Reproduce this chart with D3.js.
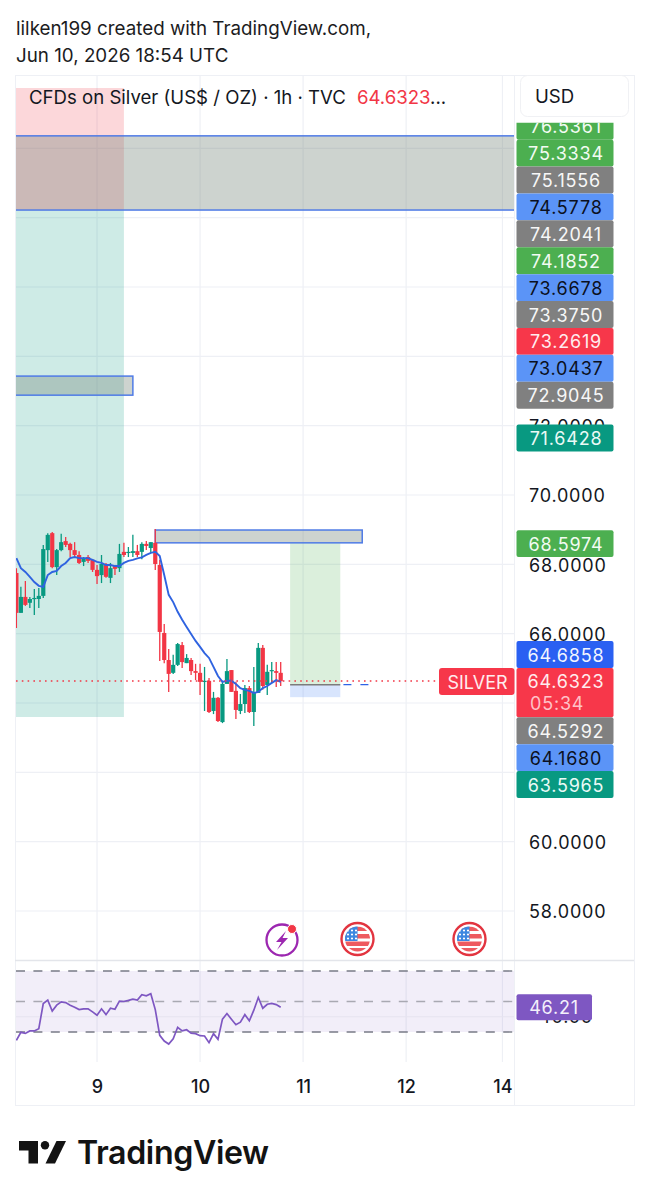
<!DOCTYPE html>
<html><head><meta charset="utf-8">
<script src="https://cdn.jsdelivr.net/npm/d3@7/dist/d3.min.js"></script>
<style>html,body{margin:0;padding:0;background:#fff}svg{display:block}text{font-family:Inter,"Noto Sans",sans-serif}</style>
</head><body><svg id="c" width="650" height="1200"></svg>
<script>
const opens=[67.75,66.60,67.06,66.89,67.00,67.00,67.09,68.41,68.90,67.92,68.41,68.67,68.59,68.41,68.27,68.07,68.21,68.13,67.84,67.69,68.01,67.61,67.95,67.89,68.36,68.33,68.33,68.38,68.36,68.59,68.47,68.62,67.98,66.02,65.24,64.87,65.10,65.67,65.15,65.24,64.92,64.87,64.61,64.64,63.77,64.15,63.45,64.55,64.95,64.35,63.77,63.97,64.43,63.74,64.29,65.59,64.52,64.92,64.92,64.87];
const highs=[67.89,67.35,67.52,67.06,67.29,67.32,68.56,68.90,68.93,68.44,68.88,68.79,68.62,68.64,68.38,68.21,68.27,68.15,67.98,68.27,68.04,68.04,67.98,68.59,68.62,68.50,68.85,68.56,68.64,68.67,68.64,69.02,68.13,66.28,65.56,65.39,65.73,65.76,65.41,65.30,65.13,65.13,65.04,64.72,64.32,64.17,64.64,65.27,64.95,64.61,64.26,64.52,64.49,65.04,65.73,65.67,65.10,65.18,65.18,65.18];
const lows=[66.16,66.60,66.80,66.74,66.54,66.74,67.03,68.07,67.89,67.69,68.38,68.50,68.21,68.21,68.01,67.95,68.04,67.78,67.43,67.46,67.61,67.46,67.69,67.78,68.21,68.21,68.21,68.21,68.15,68.41,68.33,67.84,65.21,65.15,64.32,64.84,65.07,65.01,65.15,64.81,64.66,64.23,63.77,63.71,63.68,63.45,63.42,64.55,64.32,63.54,63.68,63.71,63.71,63.34,64.29,64.38,64.23,64.58,64.46,64.49];
const closes=[66.60,67.06,66.83,67.00,67.03,67.09,68.44,68.85,67.92,68.41,68.64,68.56,68.41,68.27,68.04,68.18,68.10,67.84,67.66,68.01,67.64,67.89,67.87,68.30,68.27,68.36,68.38,68.27,68.59,68.53,68.64,68.01,66.05,65.24,64.84,65.10,65.70,65.18,65.30,64.92,64.87,64.61,64.64,63.74,64.15,63.48,64.55,64.92,64.32,63.80,63.97,64.43,63.74,64.29,65.59,64.49,64.90,64.95,64.87,64.63];
const ema=[68.18,67.89,67.78,67.64,67.49,67.38,67.35,67.69,67.78,67.81,67.95,68.04,68.18,68.21,68.18,68.18,68.18,68.13,68.07,68.04,67.98,67.98,67.95,67.95,68.04,68.10,68.13,68.17,68.20,68.27,68.33,68.36,68.24,67.69,67.12,66.91,66.63,66.40,66.19,65.99,65.79,65.62,65.44,65.30,65.04,64.78,64.61,64.64,64.64,64.55,64.43,64.38,64.35,64.29,64.32,64.43,64.49,64.58,64.66,64.61];
const rsi=[24.5,29.8,29.1,30.7,30.7,32.2,48.7,50.9,43.8,47.6,49.8,49.3,47.6,46.3,44.7,45.2,45.2,43.2,41.0,45.2,41.4,45.6,44.9,50.2,50.0,50.7,51.5,50.9,54.4,53.7,55.1,44.7,27.8,24.1,22.1,25.6,33.1,30.7,31.5,29.3,28.9,27.6,27.4,23.0,28.9,25.2,38.4,42.1,38.4,34.8,36.4,41.4,37.3,44.3,52.6,45.6,48.2,48.7,48.0,46.21];
const dayTicks=[18,41,64,87,108.5];
const dayLabels=["9","10","11","12","14"];
const priceTicks=[58,60,62,64,66,68,70,72,74,76,78,80];
const priceLabelTicks=[58,60,66,68,70,72];
const rsiLevels=[70,50,30];
const tagsTop=[["76.5361","g"],["75.3334","g"],["75.1556","k"],["74.5778","b"],["74.2041","k"],["74.1852","g"],["73.6678","b"],["73.3750","k"],["73.2619","r"],["73.0437","b"],["72.9045","k"]];
const tagsMid=[["71.6428","t",71.6428],["68.5974","g",68.5974]];
const tagsLow=[["64.6858","B",1],["64.6323","r",2],["64.5292","k",1],["64.1680","b",1],["63.5965","t",1]];
const tagColors={g:"#4caf50",k:"#808080",b:"#5b94f7",r:"#f7374a",t:"#089981",B:"#2a60f2"};
const tagInk={g:"#f2fbf2",k:"#f7f7f7",b:"#0b1020",r:"#ffecee",t:"#eafaf6",B:"#f2f5ff"};
const boxes=[
 {x0:-1,x1:24,top:81.74,bot:78.22,fill:"rgba(242,54,69,.2)"},
 {x0:-1,x1:24,top:78.22,bot:63.5965,fill:"rgba(8,153,129,.2)"},
 {x0:61.1,x1:72.3,top:68.62,bot:64.5292,fill:"rgba(76,175,80,.2)"},
 {x0:61.1,x1:72.3,top:64.5292,bot:64.168,fill:"rgba(91,148,247,.24)"}];
const zones=[
 {x0:-1,x1:112,top:80.36,bot:78.22},
 {x0:-1,x1:26,top:73.43,bot:72.88},
 {x0:31,x1:77.2,top:68.99,bot:68.62}];

const svg=d3.select("#c");
const X0=16,XR=514,PB=960;
const x=d3.scaleLinear().domain([0,59]).range([16.4,280.7]);
const y=d3.scaleLinear().domain([70,58]).range([495,911]);
const yR=d3.scaleLinear().domain([70,30]).range([971,1032]);
const GRID="#eef0f5";
svg.append("text").attr("x",16).attr("y",35).attr("font-size",18.8).attr("fill","#1c1c1e").text("lilken199 created with TradingView.com,");
svg.append("text").attr("x",16).attr("y",62).attr("font-size",18.8).attr("fill","#1c1c1e").text("Jun 10, 2026 18:54 UTC");
svg.append("rect").attr("x",15.5).attr("y",75.5).attr("width",619).attr("height",1030).attr("fill","#fff").attr("stroke",GRID);
const defs=svg.append("defs");
defs.append("clipPath").attr("id","pane").append("rect").attr("x",X0).attr("y",76).attr("width",XR-X0).attr("height",PB-76);
defs.append("clipPath").attr("id","rsi").append("rect").attr("x",X0).attr("y",961).attr("width",XR-X0).attr("height",100);
defs.append("clipPath").attr("id","tagclip").append("rect").attr("x",510).attr("y",122.7).attr("width",110).attr("height",400);
svg.append("g").selectAll("line").data(dayTicks).join("line").attr("x1",d=>x(d)).attr("x2",d=>x(d)).attr("y1",76).attr("y2",1062).attr("stroke",GRID).attr("stroke-width",1.2);
svg.append("line").attr("x1",XR+.5).attr("x2",XR+.5).attr("y1",76).attr("y2",1105).attr("stroke",GRID);
svg.append("line").attr("x1",15).attr("x2",634).attr("y1",960.5).attr("y2",960.5).attr("stroke","#e3e5ea").attr("stroke-width",1.5);
const g=svg.append("g").attr("clip-path","url(#pane)");
g.selectAll(".h").data(priceTicks).join("line").attr("x1",X0).attr("x2",XR).attr("y1",d=>y(d)).attr("y2",d=>y(d)).attr("stroke",GRID).attr("stroke-width",1.2);
g.selectAll(".b").data(boxes).join("rect").attr("x",d=>x(d.x0)).attr("width",d=>x(d.x1)-x(d.x0)).attr("y",d=>y(d.top)).attr("height",d=>y(d.bot)-y(d.top)).attr("fill",d=>d.fill);
g.selectAll(".z").data(zones).join("rect").attr("x",d=>x(d.x0)).attr("width",d=>x(d.x1)-x(d.x0)).attr("y",d=>y(d.top)).attr("height",d=>y(d.bot)-y(d.top)).attr("fill","rgba(116,134,122,.36)").attr("stroke","#4f7be6").attr("stroke-width",1.5);
g.append("line").attr("x1",x(61.1)).attr("x2",x(72.3)).attr("y1",y(64.5292)).attr("y2",y(64.5292)).attr("stroke","#7c7c7c").attr("stroke-width",1.5);
g.append("line").attr("x1",x(73)).attr("x2",x(78.7)).attr("y1",y(64.5292)).attr("y2",y(64.5292)).attr("stroke","#2f63e6").attr("stroke-width",1.4).attr("stroke-dasharray","8 9");
const cs=d3.range(closes.length).map(i=>({i,o:opens[i],h:highs[i],l:lows[i],c:closes[i]}));
const col=d=>d.c>=d.o?"#089981":"#f23645";
const cg=g.selectAll(".c").data(cs).join("g");
cg.append("line").attr("x1",d=>x(d.i)).attr("x2",d=>x(d.i)).attr("y1",d=>y(d.h)).attr("y2",d=>y(d.l)).attr("stroke",col).attr("stroke-width",1.3);
cg.append("rect").attr("x",d=>x(d.i)-2.1).attr("width",4.2).attr("y",d=>y(Math.max(d.o,d.c))).attr("height",d=>Math.max(1.2,Math.abs(y(d.o)-y(d.c)))).attr("fill",col);
g.append("path").attr("d",d3.line().x((d,i)=>x(i)).y(d=>y(d))(ema)).attr("fill","none").attr("stroke","#2f63e0").attr("stroke-width",1.9);
g.append("line").attr("x1",X0).attr("x2",440).attr("y1",y(64.6323)).attr("y2",y(64.6323)).attr("stroke","#f23645").attr("stroke-width",1.5).attr("stroke-dasharray","1.6 4.2");
const ax=svg.append("g").attr("transform","translate(529,1)").call(d3.axisRight(y).tickValues(priceLabelTicks).tickSize(0).tickPadding(0).tickFormat(d=>d.toFixed(4)));
ax.select(".domain").remove();
ax.selectAll("text").attr("font-size",18).attr("fill","#131722").attr("style","font-family:Inter,sans-serif;letter-spacing:.8px");
const tagX=516.5,tagW=97,tagH=26.9;
function tag(sel,cy,h,label,k){
  const t=sel.append("g");
  t.append("rect").attr("x",tagX).attr("y",cy-tagH/2).attr("width",tagW).attr("height",h).attr("rx",2).attr("fill",tagColors[k]);
  t.append("text").attr("x",tagX+tagW/2+1).attr("y",cy+7).attr("text-anchor","middle").attr("font-size",18).attr("letter-spacing",.8).attr("fill",tagInk[k]).text(label);
  return t;
}
const topStack=svg.append("g").attr("clip-path","url(#tagclip)");
tagsTop.forEach((d,i)=>tag(topStack,126.2+i*tagH,tagH,d[0],d[1]));
tagsMid.forEach(d=>tag(svg,y(d[2]),tagH,d[0],d[1]));
let cy=654.5;
tagsLow.forEach(d=>{const h=d[2]*tagH-(d[2]>1?4.5:0);const t=tag(svg,cy,h,d[0],d[1]);
  if(d[2]>1){t.append("text").attr("x",tagX+13.5).attr("y",cy+29).attr("font-size",18).attr("letter-spacing",.8).attr("fill","#ffc2c8").text("05:34");}
  cy+=h;});
svg.append("rect").attr("x",439).attr("y",668).attr("width",75.5).attr("height",27).attr("rx",3).attr("fill","#f7374a");
svg.append("text").attr("x",477.5).attr("y",688.5).attr("text-anchor","middle").attr("font-size",18).attr("fill","#ffecee").text("SILVER");
const lg=svg.append("text").attr("x",29).attr("y",104).attr("font-size",18.6).attr("fill","#131722");
lg.append("tspan").text("CFDs on Silver (US$ / OZ) · 1h · TVC");
lg.append("tspan").attr("dx",11).attr("fill","#f23645").text("64.6323");
lg.append("tspan").text("...");
svg.append("rect").attr("x",520.5).attr("y",75.5).attr("width",108).attr("height",41).attr("rx",7).attr("fill","#fff").attr("stroke","#f0f1f4");
svg.append("text").attr("x",535).attr("y",103).attr("font-size",18.6).attr("fill","#131722").text("USD");
const ev=svg.append("g");
ev.append("circle").attr("cx",282).attr("cy",940).attr("r",15.5).attr("fill","#fff").attr("stroke","#9c27b0").attr("stroke-width",2.3);
ev.append("path").attr("d","M286 931 L276 942 L281.5 942 L277 950 L288 938 L282.5 938 Z").attr("fill","#9c27b0");
ev.append("circle").attr("cx",292).attr("cy",929).attr("r",4.5).attr("fill","#f23645").attr("stroke","#fff").attr("stroke-width",1);
[0,1].forEach(k=>{
  const cx=[357.5,469.5][k],cyy=939;
  const f=svg.append("g").attr("transform",`translate(${cx},${cyy})`);
  defs.append("clipPath").attr("id","fl"+k).append("circle").attr("r",12.5);
  f.append("circle").attr("r",16).attr("fill","#fff").attr("stroke","#e2343f").attr("stroke-width",2.4);
  const c=f.append("g").attr("clip-path",`url(#fl${k})`);
  c.append("rect").attr("x",-13).attr("y",-13).attr("width",26).attr("height",26).attr("fill","#fff");
  [-12.5,-5,2.5,9].forEach(v=>c.append("rect").attr("x",-13).attr("y",v).attr("width",26).attr("height",v==9?5:4.5).attr("fill","#ee5a5f"));
  c.append("rect").attr("x",-13).attr("y",-13).attr("width",13).attr("height",15).attr("fill","#3d87e0");
  d3.range(3).forEach(a=>d3.range(3).forEach(b=>c.append("circle").attr("cx",-9.5+a*4).attr("cy",-8.5+b*4).attr("r",1.1).attr("fill","#fff")));
});
const rg=svg.append("g").attr("clip-path","url(#rsi)");
rg.append("rect").attr("x",X0).attr("width",XR-X0).attr("y",yR(70)).attr("height",yR(30)-yR(70)).attr("fill","rgba(126,87,194,.1)");
rg.append("line").attr("x1",X0).attr("x2",XR).attr("y1",yR(40)).attr("y2",yR(40)).attr("stroke","#e6e3ef").attr("stroke-width",1.2);
rg.selectAll(".l").data(rsiLevels).join("line").attr("x1",X0).attr("x2",XR).attr("y1",d=>yR(d)).attr("y2",d=>yR(d)).attr("stroke",d=>d==50?"#a9a9b2":"#787b86").attr("stroke-width",1.4).attr("stroke-dasharray","9 8.4");
rg.append("path").attr("d",d3.line().x((d,i)=>x(i)).y(d=>yR(d))(rsi)).attr("fill","none").attr("stroke","#7e57c2").attr("stroke-width",1.7);
svg.append("text").attr("x",566).attr("y",yR(40)+6).attr("text-anchor","middle").attr("font-size",18).attr("letter-spacing",.8).attr("fill","#131722").text("40.00");
const rv=rsi[rsi.length-1];
svg.append("rect").attr("x",516.5).attr("y",yR(rv)-13).attr("width",75.5).attr("height",26).attr("rx",2).attr("fill","#7e57c2");
svg.append("text").attr("x",554).attr("y",yR(rv)+7).attr("text-anchor","middle").attr("font-size",18).attr("letter-spacing",.8).attr("fill","#f4f0fb").text(rv.toFixed(2));
const xa=svg.append("g").attr("transform","translate(0,1080)").call(d3.axisBottom(x).tickValues(dayTicks).tickSize(0).tickPadding(0).tickFormat((d,i)=>dayLabels[i]));
xa.select(".domain").remove();
xa.selectAll("text").attr("font-size",18).attr("font-weight",500).attr("fill","#131722").attr("style","font-family:Inter,sans-serif");
const lo=svg.append("g").attr("fill","#131313");
lo.append("path").attr("d","M19 1141H38V1163.5H28.5V1150.5H19Z");
lo.append("circle").attr("cx",45).attr("cy",1145.2).attr("r",4.2);
lo.append("path").attr("d","M56.5 1141H66L55 1163.5H45.5Z");
svg.append("text").attr("x",77).attr("y",1164).attr("font-size",32.2).attr("font-weight",600).attr("letter-spacing",-.4).attr("fill","#131313").text("TradingView");
</script></body></html>
